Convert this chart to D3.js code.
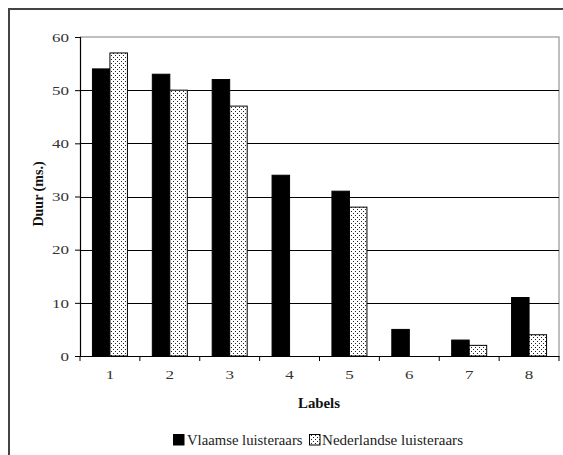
<!DOCTYPE html>
<html><head><meta charset="utf-8">
<script src="https://cdn.jsdelivr.net/npm/d3@7"></script>
<style>body{margin:0;background:#fff}svg{display:block}text{font-family:"Liberation Serif","Times New Roman",serif}</style>
</head><body>
<svg id="c" width="563" height="455"></svg>
<script>
const categories = ["1","2","3","4","5","6","7","8"];
const vlaamse = [54,53,52,34,31,5,3,11];
const nederlandse = [57,50,47,0,28,0,2,4];
const seriesNames = ["Vlaamse luisteraars","Nederlandse luisteraars"];
const yTicks = [0,10,20,30,40,50,60];

const svg = d3.select("#c");
const defs = svg.append("defs");
const pat = defs.append("pattern").attr("id","dots").attr("patternUnits","userSpaceOnUse")
  .attr("width",4).attr("height",4);
pat.append("rect").attr("width",4).attr("height",4).attr("fill","#fff");
pat.append("rect").attr("x",1).attr("y",1).attr("width",1).attr("height",1).attr("fill","#222");
pat.append("rect").attr("x",3).attr("y",3).attr("width",1).attr("height",1).attr("fill","#222");

// outer frame
svg.append("rect").attr("x",9).attr("y",9).attr("width",600).attr("height",500)
  .attr("fill","none").attr("stroke","#444").attr("stroke-width",2);

const L=80, R=559, T=37, B=356;
const x = d3.scaleBand().domain(categories).range([L,R]);
const y = d3.scaleLinear().domain([0,60]).range([B,T]);

// plot area border (gray)
svg.append("path").attr("d",`M${L},${T}H${R}V${B}`).attr("fill","none").attr("stroke","#aaa").attr("stroke-width",1.5);

// gridlines
svg.append("g").selectAll("line").data(yTicks.filter(d=>d>0 && d<60)).join("line")
  .attr("x1",L).attr("x2",R).attr("y1",d=>Math.round(y(d))+0.5).attr("y2",d=>Math.round(y(d))+0.5)
  .attr("stroke","#000").attr("stroke-width",1.2);

// bars
const bw = 17.5;
const data = [vlaamse, nederlandse];
data.forEach((vals,si)=>{
  svg.append("g").selectAll("rect").data(categories).join("rect")
    .filter((c,i)=>vals[i]>0)
    .attr("x",c=>x(c)+x.bandwidth()/2 - bw + si*bw)
    .attr("y",c=>y(vals[categories.indexOf(c)]))
    .attr("width",bw)
    .attr("height",c=>B - y(vals[categories.indexOf(c)]))
    .attr("fill", si===0 ? "#000" : "url(#dots)")
    .attr("stroke","#000").attr("stroke-width",1);
});

// y axis
const ya = svg.append("g").attr("transform",`translate(${L},0)`)
  .call(d3.axisLeft(y).tickValues(yTicks).tickSize(5).tickPadding(6).tickFormat(d3.format("d")));
ya.select(".domain").attr("stroke","#000").attr("stroke-width",1.2);
ya.selectAll(".tick line").attr("stroke","#000");
ya.selectAll("text").attr("font-size",13).attr("fill","#333").attr("font-family","Liberation Serif")
  .attr("lengthAdjust","spacingAndGlyphs").attr("textLength",d=>String(d).length*8.5);

// x axis
const xa = svg.append("g").attr("transform",`translate(0,${B})`)
  .call(d3.axisBottom(x).tickSize(0).tickPadding(14));
xa.select(".domain").attr("stroke","#000").attr("stroke-width",1.2);
xa.selectAll("text").attr("font-size",13).attr("fill","#333").attr("font-family","Liberation Serif")
  .attr("lengthAdjust","spacingAndGlyphs").attr("textLength",8.5);
// category boundary ticks
svg.append("g").selectAll("line").data(d3.range(categories.length+1)).join("line")
  .attr("x1",i=>L+i*x.step()).attr("x2",i=>L+i*x.step())
  .attr("y1",B).attr("y2",B+5).attr("stroke","#000");

// axis titles
svg.append("text").attr("x",319).attr("y",408).attr("text-anchor","middle")
  .attr("font-weight","bold").attr("font-size",14).attr("fill","#111")
  .attr("lengthAdjust","spacingAndGlyphs").attr("textLength",42).text("Labels");
svg.append("text").attr("transform","translate(43,194) rotate(-90)").attr("text-anchor","middle")
  .attr("font-weight","bold").attr("font-size",14).attr("fill","#111").text("Duur (ms.)");

// legend
const lg = svg.append("g");
lg.append("rect").attr("x",173).attr("y",434).attr("width",11.5).attr("height",11.5).attr("fill","#000");
lg.append("text").attr("x",187).attr("y",445).attr("font-size",14).attr("fill","#222")
  .attr("lengthAdjust","spacingAndGlyphs").attr("textLength",115.5).text(seriesNames[0]);
lg.append("rect").attr("x",309.5).attr("y",434.5).attr("width",10.5).attr("height",10.5).attr("fill","url(#dots)").attr("stroke","#000");
lg.append("text").attr("x",322).attr("y",445).attr("font-size",14).attr("fill","#222")
  .attr("lengthAdjust","spacingAndGlyphs").attr("textLength",141).text(seriesNames[1]);
</script>
</body></html>
